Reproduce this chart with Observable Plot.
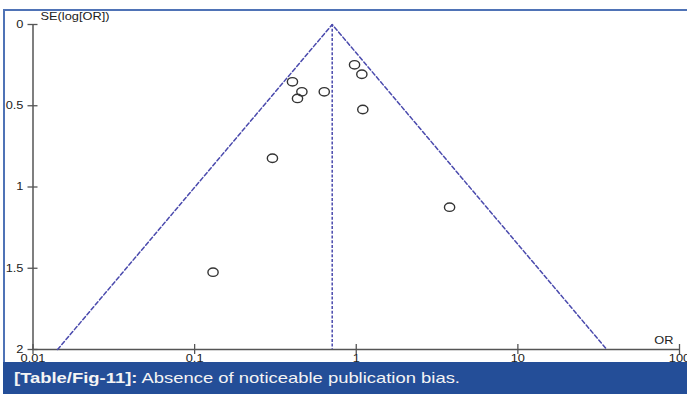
<!DOCTYPE html>
<html>
<head>
<meta charset="utf-8">
<script src="https://cdn.jsdelivr.net/npm/d3@7"></script>
<script src="https://cdn.jsdelivr.net/npm/@observablehq/plot@0.6"></script>
<style>
  html, body { margin: 0; padding: 0; background: #fff; }
  #wrap { position: relative; width: 687px; height: 394px; overflow: hidden; font-family: "Liberation Sans", Arial, sans-serif; }
  #chart { position: absolute; left: 0; top: 0; }
  #frameTop { position: absolute; left: 3px; top: 9px; width: 684px; height: 0; border-top: 2px solid #4f73b6; z-index: 2; }
  #frameLeft { position: absolute; left: 3px; top: 9px; width: 0; height: 360px; border-left: 2px solid #4f73b6; z-index: 2; }
  #caption { position: absolute; left: 3px; top: 362px; width: 684px; height: 32px; background: #244e98; z-index: 3; }
  #caption span { position: absolute; left: 11px; top: 0; line-height: 33px; color: #f4f4f4; font-size: 14.5px; white-space: nowrap; transform: scaleX(1.27); transform-origin: 0 50%; }
  #caption b { font-weight: bold; }
</style>
</head>
<body>
<div id="wrap">
  <div id="chart"></div>
  <div id="frameTop"></div>
  <div id="frameLeft"></div>
  <div id="caption"><span><b>[Table/Fig-11]:</b> Absence of noticeable publication bias.</span></div>
</div>
<script>
// Study estimates
const oddsRatios = [0.130, 0.303, 0.403, 0.461, 0.433, 0.634, 0.976, 1.083, 1.098, 3.78];
const standardErrors = [1.524, 0.823, 0.353, 0.414, 0.455, 0.414, 0.248, 0.306, 0.523, 1.124];

// Pooled estimate and funnel limits
const pooledOR = 0.71;
const funnelOR = [0.0142, 0.71, 35.5];
const funnelSE = [2, 0, 2];

// Axis ticks
const xTicks = [0.01, 0.1, 1, 10, 100];
const xTickLabels = ["0.01", "0.1", "1", "10", "100"];
const yTicks = [0, 0.5, 1, 1.5, 2];
const yTickLabels = ["0", "0.5", "1", "1.5", "2"];

const studies = oddsRatios.map((or, i) => ({or, se: standardErrors[i]}));
const funnel = funnelOR.map((or, i) => ({or, se: funnelSE[i]}));

const axisColor = "#555";
const dashColor = "#4a4aad";
const textColor = "#222";
const stretch = 1.22;

// slightly wide open circle, as in the reference
const ellipseSymbol = {
  draw(ctx, size) {
    const r = Math.sqrt(size / Math.PI);
    const rx = r * stretch, ry = r, k = 0.5523;
    ctx.moveTo(rx, 0);
    ctx.bezierCurveTo(rx, k * ry, k * rx, ry, 0, ry);
    ctx.bezierCurveTo(-k * rx, ry, -rx, k * ry, -rx, 0);
    ctx.bezierCurveTo(-rx, -k * ry, -k * rx, -ry, 0, -ry);
    ctx.bezierCurveTo(k * rx, -ry, rx, -k * ry, rx, 0);
    ctx.closePath();
  }
};

const chart = Plot.plot({
  width: 687,
  height: 362,
  marginLeft: 32.5,
  marginRight: 8,
  marginTop: 24,
  marginBottom: 13,
  x: {type: "log", domain: [0.01, 100], axis: null},
  y: {domain: [0, 2], reverse: true, axis: null},
  style: {background: "transparent", fontFamily: "'Liberation Sans', Arial, sans-serif", fontSize: "10.5px", color: textColor},
  marks: [
    // axes lines
    Plot.ruleX([0.01], {y1: 0, y2: 2, stroke: axisColor, strokeWidth: 1.5}),
    Plot.ruleY([2], {x1: 0.01, x2: 100, stroke: axisColor, strokeWidth: 1.5}),
    // ticks crossing the axes
    Plot.ruleY(yTicks, {y: d => d, x1: 0.01, x2: 0.01, insetLeft: -5, insetRight: -5, stroke: axisColor, strokeWidth: 1.3}),
    Plot.ruleX(xTicks, {x: d => d, y1: 2, y2: 2, insetTop: -5, insetBottom: -5, stroke: axisColor, strokeWidth: 1.3}),
    // tick labels
    Plot.text(yTicks, {x: 0.01, y: d => d, text: (d, i) => yTickLabels[i], dx: -9.5, textAnchor: "end", fill: textColor, fontSize: 10.5}),
    Plot.text(xTicks, {x: d => d, y: 2, text: (d, i) => xTickLabels[i], dy: 5.5, lineAnchor: "top", fill: textColor, fontSize: 10.5}),
    // axis titles
    Plot.text(["SE(log[OR])"], {x: 0.01, y: 0, text: d => d, dx: 7.5, dy: -8, textAnchor: "start", fill: textColor, fontSize: 10.5}),
    Plot.text(["OR"], {x: 100, y: 2, text: d => d, dx: -6, dy: -8.5, textAnchor: "end", fill: textColor, fontSize: 10.5}),
    // funnel
    Plot.line(funnel, {x: "or", y: "se", stroke: dashColor, strokeWidth: 1.5, strokeDasharray: "4,2.5"}),
    Plot.ruleX([pooledOR], {y1: 0, y2: 2, stroke: dashColor, strokeWidth: 1.5, strokeDasharray: "3,1.7"}),
    // studies
    Plot.dot(studies, {x: "or", y: "se", r: 4.2, symbol: ellipseSymbol, stroke: "#333", strokeWidth: 1.4, fill: "none"})
  ]
});

// the reference's lettering is horizontally stretched: widen each text about its anchor point
d3.select(chart).selectAll("text").each(function() {
  const t = this.getAttribute("transform");
  if (t) {
    this.setAttribute("transform", t + ` scale(${stretch},1)`);
  } else {
    const x = +this.getAttribute("x") || 0, y = +this.getAttribute("y") || 0;
    this.removeAttribute("x");
    this.removeAttribute("y");
    this.setAttribute("transform", `translate(${x},${y}) scale(${stretch},1)`);
  }
});

document.getElementById("chart").appendChild(chart);
</script>
</body>
</html>
